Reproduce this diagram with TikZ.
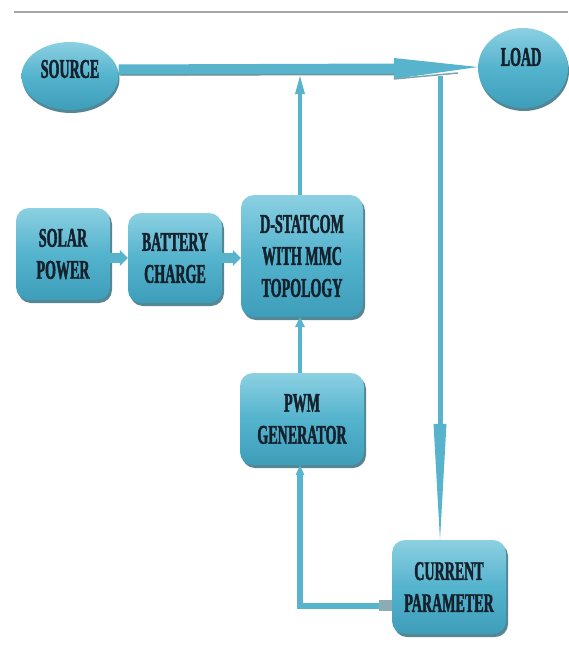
\documentclass[tikz,border=0pt]{standalone}
\usepackage{fontspec}
\usetikzlibrary{shapes.geometric,shadows,calc}
\newfontfamily\labfont{Liberation Serif Bold}[FakeStretch=0.52,FakeBold=1.6]
\definecolor{boxtop}{HTML}{8CD0E2}
\definecolor{boxmid}{HTML}{54B3CD}
\definecolor{boxbot}{HTML}{3E9DB9}
\definecolor{shadowc}{HTML}{2A6878}
\definecolor{linkc}{HTML}{58B4CC}
\definecolor{txtc}{HTML}{15222E}
\tikzset{
  lab/.style={text=txtc, font=\labfont\fontsize{27}{32}\selectfont},
  blk/.style={rectangle, rounded corners=13pt, draw=none,
    top color=boxtop, bottom color=boxbot, middle color=boxmid,
    drop shadow={shadow xshift=2pt, shadow yshift=-3pt, fill=shadowc, opacity=0.8},
    lab, align=center, inner sep=0pt},
  ell/.style={ellipse, draw=none, top color=boxtop, bottom color=boxbot, middle color=boxmid,
    drop shadow={shadow xshift=1pt, shadow yshift=-3pt, fill=shadowc, opacity=0.8},
    inner sep=0pt},
  lnk/.style={draw=linkc, line join=miter},
  head/.style={fill=linkc},
}
\begin{document}
\begin{tikzpicture}[x=1pt,y=-1pt]
\useasboundingbox (0,0) rectangle (568,648);
\draw[color=gray!70, line width=2pt] (14,12) -- (568,12);
% nodes
\node[ell, minimum width=97pt, minimum height=68pt] (src) at (70,76) {};
\node[lab] (srct) at (70,69) {SOURCE};
\node[ell, minimum width=90pt, minimum height=80pt] (load) at (523,68) {};
\node[lab] (loadt) at (521,57) {LOAD};
\node[blk, minimum width=94pt, minimum height=92pt] (solar) at (63,254) {SOLAR\\POWER};
\node[blk, minimum width=94pt, minimum height=90pt] (batt) at (175,258) {BATTERY\\CHARGE};
\node[blk, minimum width=122pt, minimum height=122pt] (dst) at (302,256) {D-STATCOM\\WITH MMC\\TOPOLOGY};
\node[blk, minimum width=124pt, minimum height=92pt] (pwm) at (302,419) {PWM\\GENERATOR};
\node[blk, minimum width=114pt, minimum height=94pt] (cur) at (449,587) {CURRENT\\PARAMETER};
\coordinate (tapA) at (300,76);
\coordinate (tapB) at (440,76);
\coordinate (corner) at (300,606);
\coordinate (mainend) at (load.west |- 0,67);
% main arrow
\draw[lnk, line width=11pt] (src.east |- 0,70) -- ($(mainend)+(-80,2)$);
\draw[draw=shadowc!70, line width=1.5pt] ($(src.east |- 0,75)+(2,0)$) -- ($(mainend)+(-80,7.5)$);
\fill[head] ($(mainend)+(-84,-9)$) -- (mainend) -- ($(mainend)+(-84,12)$) -- cycle;
\draw[draw=shadowc!60, line width=1.5pt] ($(mainend)+(-84,12)$) -- ($(mainend)+(-20,6)$);
% up arrow from D-STATCOM to line
\draw[lnk, line width=4pt] (dst.north -| tapA) -- ($(tapA)+(0,14)$);
\fill[head] ($(tapA)+(-5,18)$) -- (tapA) -- ($(tapA)+(5,18)$) -- cycle;
% down branch to current parameter
\coordinate (curtop) at (cur.north -| tapB);
\draw[lnk, line width=5pt] (tapB) -- ($(curtop)+(0,-110)$);
\fill[head] ($(curtop)+(-6.5,-116)$) -- (curtop) -- ($(curtop)+(6.5,-116)$) -- cycle;
% solar -> battery -> dst
\draw[lnk, line width=10pt] (solar.east |- 0,258) -- ($(batt.west |- 0,258)+(-6,0)$);
\fill[head] ($(batt.west |- 0,258)+(-8,-8)$) -- (batt.west |- 0,258) -- ($(batt.west |- 0,258)+(-8,8)$) -- cycle;
\draw[lnk, line width=10pt] (batt.east |- 0,258) -- ($(dst.west |- 0,258)+(-6,0)$);
\fill[head] ($(dst.west |- 0,258)+(-8,-8)$) -- (dst.west |- 0,258) -- ($(dst.west |- 0,258)+(-8,8)$) -- cycle;
% pwm -> dst
\draw[lnk, line width=4pt] (pwm.north -| tapA) -- ($(dst.south -| tapA)+(0,8)$);
\fill[head] ($(dst.south -| tapA)+(-5,10)$) -- (dst.south -| tapA) -- ($(dst.south -| tapA)+(5,10)$) -- cycle;
% current -> pwm
\draw[lnk, line width=6pt] (cur.west |- corner) -- (corner) -- ($(pwm.south -| corner)+(0,8)$);
\fill[head] ($(pwm.south -| corner)+(-4.5,10)$) -- (pwm.south -| corner) -- ($(pwm.south -| corner)+(4.5,10)$) -- cycle;
\fill[shadowc!55] (379,600) rectangle (392,611);
\end{tikzpicture}
\end{document}
